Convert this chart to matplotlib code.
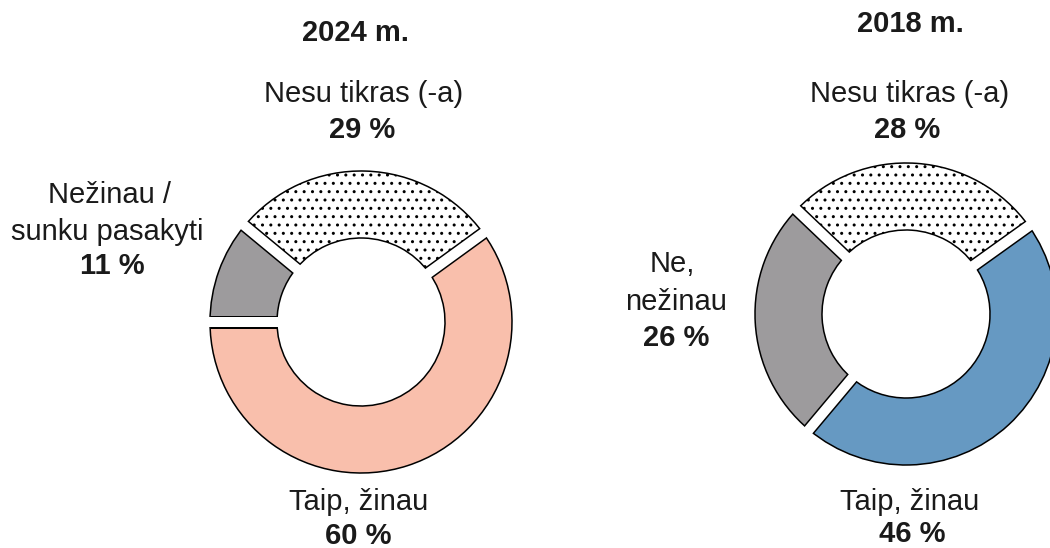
import numpy as np
import matplotlib
matplotlib.use("Agg")
from matplotlib import pyplot as plt

# ---------------- data
labels_2024 = ['Taip, žinau', 'Nesu tikras (-a)', 'Nežinau /\nsunku pasakyti']
values_2024 = [60, 29, 11]
labels_2018 = ['Taip, žinau', 'Nesu tikras (-a)', 'Ne,\nnežinau']
values_2018 = [46, 28, 26]
titles = ['2024 m.', '2018 m.']

PINK = '#F9BFAC'
BLUE = '#6699C2'
GREY = '#9D9B9D'

plt.rcParams['font.family'] = ['Liberation Sans', 'DejaVu Sans']
plt.rcParams['hatch.linewidth'] = 1.0

W, H = 1050, 548
fig = plt.figure(figsize=(W / 100, H / 100), dpi=100)
ax = fig.add_axes([0, 0, 1, 1])

R = 151
RIN = 84
GAP = 10  # px
LW = 1.1


def donut(values, colors, center, start):
    ws, _ = ax.pie(values, colors=colors, startangle=start, counterclock=True,
                   radius=R, center=center, frame=True,
                   wedgeprops=dict(width=R - RIN, edgecolor='black', linewidth=LW))
    ws[1].set_facecolor('white')
    ws[1].set_hatch('..')
    # white gaps between slices, outlined in black
    bounds = start + 360 * np.cumsum([0] + list(values[:-1])) / np.sum(values)
    cx, cy = center
    for a in bounds:
        t = np.deg2rad(a)
        ax.plot([cx + RIN * np.cos(t), cx + R * np.cos(t)],
                [cy + RIN * np.sin(t), cy + R * np.sin(t)],
                color='black', lw=(GAP + 3) * 0.72, solid_capstyle='butt', zorder=3)
        ax.plot([cx + (RIN - 4) * np.cos(t), cx + (R + 4) * np.cos(t)],
                [cy + (RIN - 4) * np.sin(t), cy + (R + 4) * np.sin(t)],
                color='white', lw=GAP * 0.72, solid_capstyle='butt', zorder=4)


donut(values_2024, [PINK, 'white', GREY], (361, H - 322), 180)
donut(values_2018, [BLUE, 'white', GREY], (906, H - 314), 230)
ax.set_xlim(0, W)
ax.set_ylim(0, H)
ax.set_aspect('equal')
ax.axis('off')

FS = 21
tc = '#1a1a1a'


def txt(x, y, s, bold=False):
    # y is the baseline, measured from the top in pixels
    ax.text(x, H - y, s, fontsize=FS, fontweight='bold' if bold else 'normal',
            ha='center', va='baseline', color=tc)


# left chart
txt(356, 41, titles[0], bold=True)
txt(364, 102, labels_2024[1])
txt(362, 138, f'{values_2024[1]} %', bold=True)
l1, l2 = labels_2024[2].split('\n')
txt(110, 203, l1)
txt(107, 240, l2)
txt(112, 274, f'{values_2024[2]} %', bold=True)
txt(359, 510, labels_2024[0])
txt(358, 544, f'{values_2024[0]} %', bold=True)

# right chart
txt(910, 32, titles[1], bold=True)
txt(910, 102, labels_2018[1])
txt(907, 138, f'{values_2018[1]} %', bold=True)
r1, r2 = labels_2018[2].split('\n')
txt(672, 272, r1)
txt(676, 310, r2)
txt(676, 346, f'{values_2018[2]} %', bold=True)
txt(910, 510, labels_2018[0])
txt(912, 542, f'{values_2018[0]} %', bold=True)

fig.savefig('out.png', dpi=100, facecolor='white')
